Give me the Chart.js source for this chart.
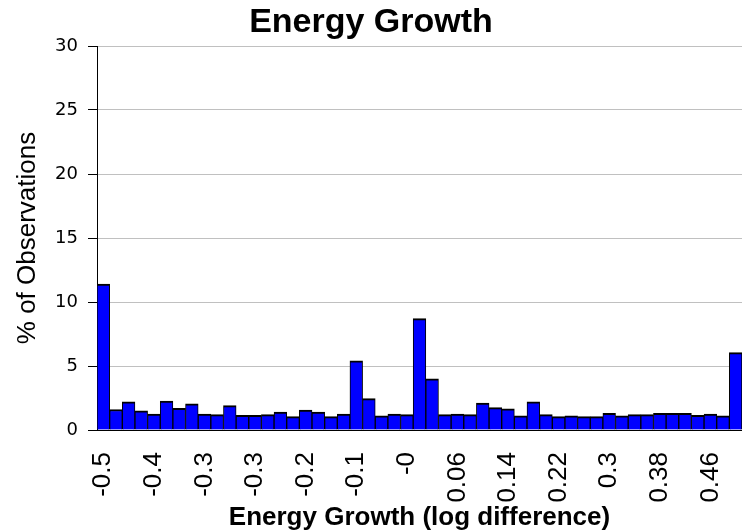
<!DOCTYPE html>
<html>
<head>
<meta charset="utf-8">
<script src="https://cdn.jsdelivr.net/npm/chart.js@4.4.1/dist/chart.umd.min.js"></script>
<style>
html,body{margin:0;padding:0;background:#fff;}
#wrap{width:742px;height:532px;position:relative;}
canvas{display:block;}
</style>
</head>
<body>
<div id="wrap"><canvas id="c" width="742" height="532"></canvas></div>
<script>
// Histogram bins (centre of each log-difference bin)
const categories = [
  "-0.5","-0.48","-0.46","-0.44","-0.42","-0.4","-0.38","-0.36","-0.34","-0.32",
  "-0.3","-0.28","-0.26","-0.24","-0.22","-0.2","-0.18","-0.16","-0.14","-0.12",
  "-0.1","-0.08","-0.06","-0.04","-0.02","0","0.02","0.04","0.06","0.08",
  "0.1","0.12","0.14","0.16","0.18","0.2","0.22","0.24","0.26","0.28",
  "0.3","0.32","0.34","0.36","0.38","0.4","0.42","0.44","0.46","0.48","0.5"
];
// % of observations in each bin
const shares = [
  11.4, 1.6, 2.2, 1.5, 1.25, 2.25, 1.7, 2.05, 1.25, 1.2,
  1.9, 1.15, 1.15, 1.2, 1.4, 1.05, 1.55, 1.4, 1.05, 1.25,
  5.4, 2.45, 1.1, 1.25, 1.2, 8.7, 4.0, 1.2, 1.25, 1.2,
  2.1, 1.75, 1.65, 1.1, 2.2, 1.2, 1.05, 1.1, 1.05, 1.05,
  1.3, 1.1, 1.2, 1.2, 1.3, 1.3, 1.3, 1.15, 1.25, 1.1, 6.05
];
// Tick labels as printed under every 4th bin
const tickLabels = ["-0.5","-0.4","-0.3","-0.3","-0.2","-0.1","-0","0.06","0.14","0.22","0.3","0.38","0.46"];
const tickEvery = 4;
const yMin = 0, yMax = 30, yStep = 5;

const ARIAL = "'Liberation Sans', Arial, Helvetica, sans-serif";

new Chart(document.getElementById('c'), {
  type: 'bar',
  data: {
    labels: categories,
    datasets: [{
      data: shares,
      backgroundColor: '#0000FF',
      borderColor: '#000000',
      borderWidth: {top: 2, left: 1, right: 1, bottom: 0},
      borderSkipped: false,
      categoryPercentage: 1.0,
      barPercentage: 1.0
    }]
  },
  options: {
    responsive: false,
    devicePixelRatio: 1,
    animation: false,
    layout: {padding: 0},
    plugins: {
      legend: {display: false},
      tooltip: {enabled: false},
      title: {
        display: true,
        text: 'Energy Growth',
        color: '#000',
        font: {family: ARIAL, size: 34, weight: 'bold', lineHeight: 1},
        padding: {top: 6, bottom: 6}
      }
    },
    scales: {
      x: {
        type: 'category',
        offset: true,
        grid: {display: false, drawTicks: false},
        border: {display: true, color: '#000', width: 1},
        ticks: {
          autoSkip: false,
          minRotation: 90,
          maxRotation: 90,
          padding: 22,
          color: '#000',
          font: {family: ARIAL, size: 26},
          callback: function(v, i) { return i % tickEvery === 0 ? tickLabels[i / tickEvery] : ''; }
        },
        title: {
          display: true,
          text: 'Energy Growth (log difference)',
          color: '#000',
          font: {family: ARIAL, size: 26, weight: 'bold', lineHeight: 1},
          padding: {top: 0, bottom: 1}
        },
        afterFit: function(s) { s.height = 102; s.paddingRight = 0; s.paddingLeft = 0; }
      },
      y: {
        min: yMin,
        max: yMax,
        grid: {color: '#c0c0c0', lineWidth: 1, tickColor: '#000', tickLength: 9, drawTicks: true},
        border: {display: true, color: '#000', width: 1},
        ticks: {
          stepSize: yStep,
          padding: 10,
          color: '#000',
          font: {family: "'DejaVu Sans', sans-serif", size: 18}
        },
        title: {
          display: true,
          text: '% of Observations',
          color: '#000',
          font: {family: ARIAL, size: 26, lineHeight: 1},
          padding: {top: 15, bottom: 0}
        },
        afterFit: function(s) { s.width = 97; }
      }
    }
  }
});
</script>
</body>
</html>
